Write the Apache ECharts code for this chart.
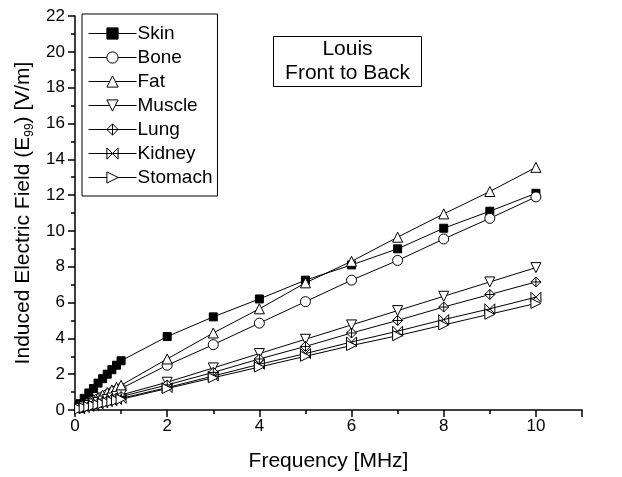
<!DOCTYPE html>
<html>
<head>
<meta charset="utf-8">
<script src="https://cdn.jsdelivr.net/npm/echarts@6/dist/echarts.min.js"></script>
<style>html,body{margin:0;padding:0;background:#fff;}#c{width:622px;height:477px;}</style>
</head>
<body>
<div id="c"></div>
<script>
var freq = [0.1,0.2,0.3,0.4,0.5,0.6,0.7,0.8,0.9,1.0,2,3,4,5,6,7,8,9,10];
var skin    = [0.35,0.65,0.95,1.2,1.5,1.75,2.0,2.25,2.5,2.75, 4.1,5.2,6.2,7.25,8.1,9.0,10.15,11.1,12.1];
var bone    = [0.12,0.25,0.37,0.5,0.62,0.74,0.86,0.98,1.1,1.2, 2.5,3.65,4.85,6.05,7.25,8.35,9.55,10.7,11.9];
var fat     = [0.14,0.28,0.42,0.56,0.7,0.84,0.98,1.12,1.26,1.38, 2.85,4.3,5.65,7.1,8.3,9.65,10.95,12.2,13.55];
var muscle  = [0.08,0.17,0.25,0.34,0.42,0.5,0.59,0.67,0.76,0.84, 1.55,2.35,3.15,3.95,4.75,5.55,6.35,7.15,7.95];
var lung    = [0.07,0.15,0.22,0.3,0.37,0.45,0.52,0.6,0.67,0.75, 1.4,2.1,2.85,3.55,4.3,5.0,5.75,6.45,7.15];
var kidney  = [0.06,0.13,0.2,0.26,0.33,0.39,0.46,0.52,0.59,0.65, 1.25,1.9,2.55,3.15,3.8,4.4,5.05,5.65,6.3];
var stomach = [0.06,0.12,0.18,0.24,0.3,0.36,0.42,0.48,0.54,0.6, 1.2,1.8,2.4,3.0,3.6,4.15,4.75,5.35,5.95];
var seriesNames = ['Skin','Bone','Fat','Muscle','Lung','Kidney','Stomach'];
var seriesData = [skin,bone,fat,muscle,lung,kidney,stomach];

var FONT = 'Liberation Sans, Arial, sans-serif';
var symbols = [
  {symbol:'rect', size:8, rotate:0, fill:'#000'},
  {symbol:'circle', size:10, rotate:0, fill:'#fff'},
  {symbol:'triangle', size:10, rotate:0, fill:'#fff'},
  {symbol:'triangle', size:10, rotate:180, fill:'#fff'},
  {symbol:'path://M5 0 L10 5 L5 10 L0 5 Z M5 0 L5 10 M0 5 L10 5', size:10, rotate:0, fill:'#fff'},
  {symbol:'path://M0 0 L10 10 M10 0 L0 10 M0 0 L0 10 M10 0 L10 10', size:10, rotate:0, fill:'none'},
  {symbol:'triangle', size:10, rotate:-90, fill:'#fff'}
];

function pairs(arr){ return freq.map(function(f,i){ return [f, arr[i]]; }); }

var series = seriesNames.map(function(n, i){
  var s = symbols[i];
  return {
    name: n, type: 'line', data: pairs(seriesData[i]),
    symbol: s.symbol, symbolSize: s.size, symbolRotate: s.rotate,
    showAllSymbol: true,
    lineStyle: {color:'#000', width:1},
    itemStyle: {color: s.fill, borderColor:'#000', borderWidth:1, opacity:1},
    emphasis: {disabled:true},
    animation: false,
    z: 2 + i
  };
});

var legendData = seriesNames.map(function(n, i){
  return {name:n, itemStyle:{color: symbols[i].fill, borderColor:'#000', borderWidth:1},
          lineStyle:{color:'#000', width:1}};
});

var chart = echarts.init(document.getElementById('c'), null, {renderer:'canvas'});
chart.setOption({
  backgroundColor: '#fff',
  animation: false,
  grid: {left:75, right:40, top:16, bottom:63, containLabel:false},
  xAxis: {
    type:'value', min:0, max:11, interval:2,
    name:'Frequency [MHz]', nameLocation:'middle', nameGap:41,
    nameTextStyle:{fontFamily:FONT, fontSize:21, color:'#000'},
    axisLine:{show:true, onZero:false, lineStyle:{color:'#000', width:1.5}},
    axisTick:{show:true, inside:false, length:7, lineStyle:{color:'#000', width:1.5}},
    minorTick:{show:true, splitNumber:2, length:4, lineStyle:{color:'#000', width:1.5}},
    axisLabel:{fontFamily:FONT, fontSize:17, color:'#000', margin:8, showMaxLabel:false,
      formatter:function(v){ return v > 10 ? '' : String(v); }},
    splitLine:{show:false}
  },
  yAxis: {
    type:'value', min:0, max:22, interval:2,
    name:'Induced Electric Field (E{s|99}) [V/m]', nameLocation:'middle', nameGap:26,
    nameTextStyle:{fontFamily:FONT, fontSize:21, color:'#000',
      rich:{s:{fontFamily:FONT, fontSize:12, color:'#000', padding:[12,0,0,0]}}},
    axisLine:{show:true, onZero:false, lineStyle:{color:'#000', width:1.5}},
    axisTick:{show:true, inside:false, length:7, lineStyle:{color:'#000', width:1.5}},
    minorTick:{show:true, splitNumber:2, length:4, lineStyle:{color:'#000', width:1.5}},
    axisLabel:{fontFamily:FONT, fontSize:17, color:'#000', margin:10},
    splitLine:{show:false}
  },
  legend: {
    data: legendData,
    orient:'vertical', left:82, top:14,
    itemWidth:48, itemHeight:14, itemGap:5,
    padding:[10,5,9,6],
    borderColor:'#000', borderWidth:1, backgroundColor:'#fff',
    textStyle:{fontFamily:FONT, fontSize:19, color:'#000', padding:[0,0,0,-4]},
    selectedMode:false
  },
  graphic: [{
    type:'group', left:273, top:36,
    children:[
      {type:'rect', shape:{x:0,y:0,width:148,height:50}, style:{fill:'#fff', stroke:'#000', lineWidth:1}},
      {type:'text', x:74, y:25, style:{text:'Louis\nFront to Back', fontFamily:FONT, fontSize:21, fill:'#000', align:'center', verticalAlign:'middle', lineHeight:24}}
    ]
  }],
  series: series
});
</script>
</body>
</html>
